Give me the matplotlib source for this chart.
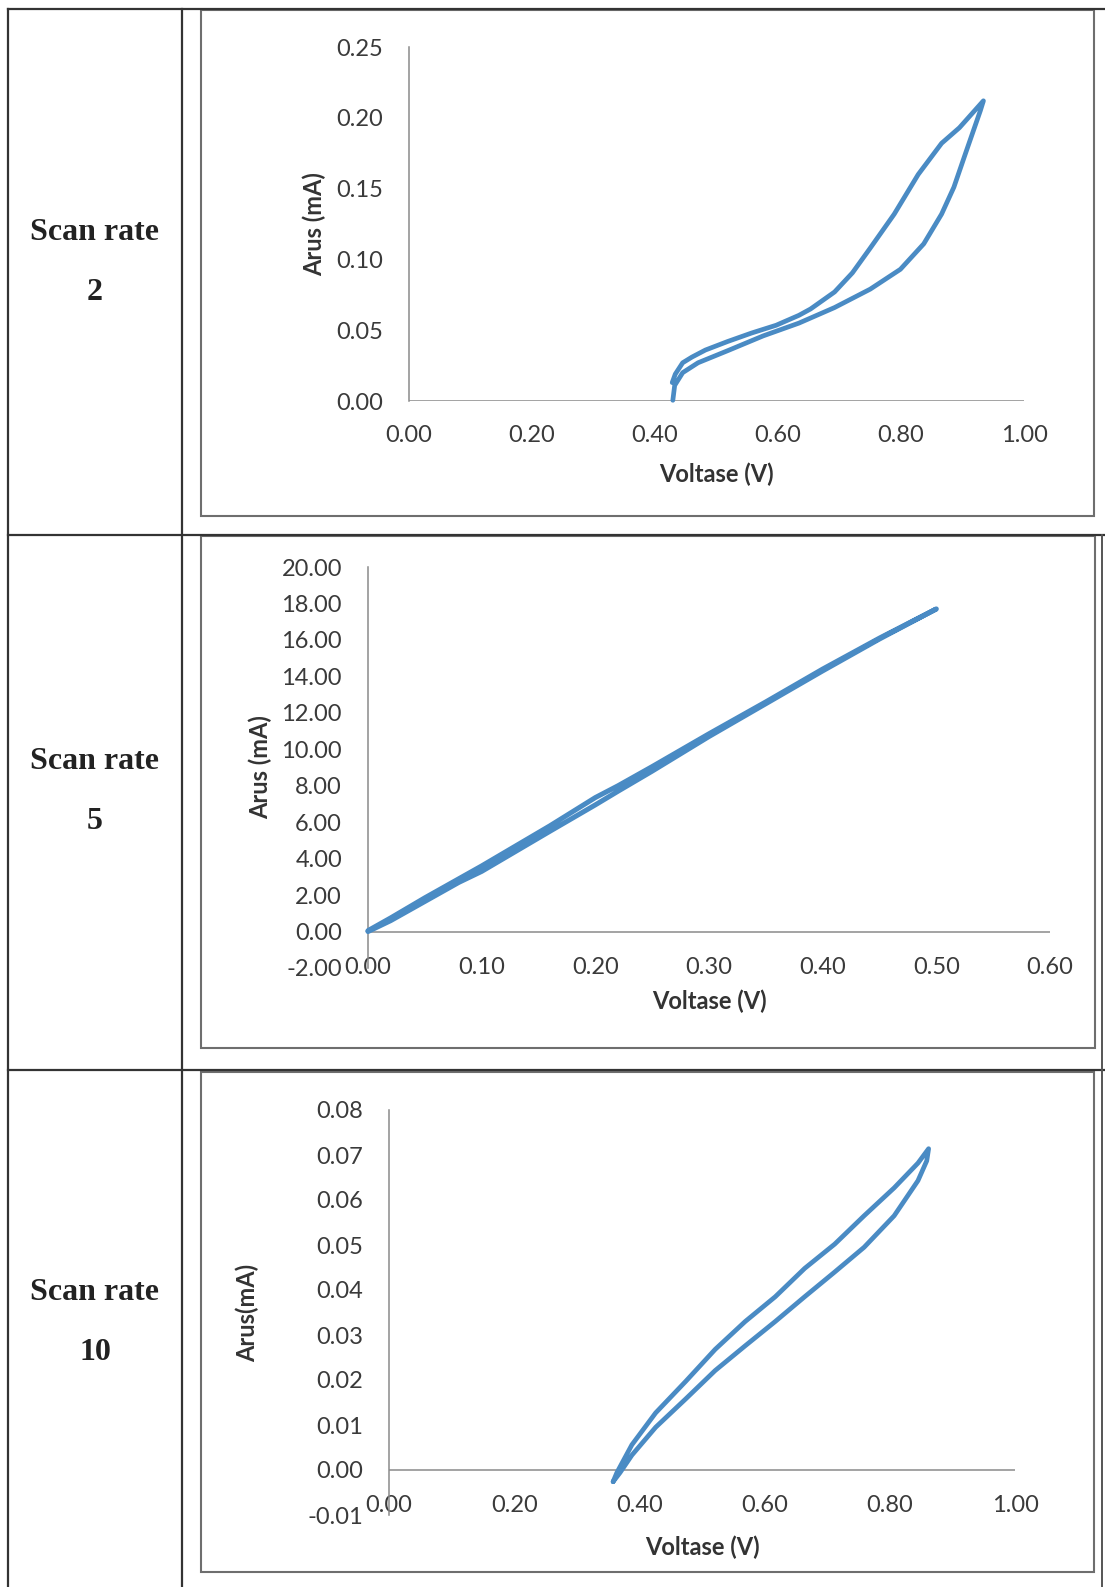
import matplotlib
matplotlib.use("Agg")
import matplotlib.pyplot as plt
from matplotlib.lines import Line2D
from matplotlib.patches import Rectangle

W, H = 1105, 1587
BLUE = "#4a8bc4"
AXIS_GREY = "#8a8a8a"
TEXT = "#3a3a3a"

plt.rcParams["font.family"] = ["Lato", "DejaVu Sans"]

# scan rate 2: forward (upper) and return (lower) branches
v2_up = [0.428, 0.433, 0.445, 0.460, 0.482, 0.518, 0.557, 0.597, 0.634, 0.653,
         0.692, 0.721, 0.750, 0.789, 0.828, 0.866, 0.895, 0.934]
i2_up = [0.013, 0.019, 0.027, 0.031, 0.036, 0.042, 0.048, 0.0535, 0.0605, 0.065,
         0.077, 0.0905, 0.108, 0.132, 0.160, 0.182, 0.193, 0.212]
v2_down = [0.929, 0.905, 0.886, 0.866, 0.837, 0.799, 0.750, 0.692, 0.634, 0.576,
           0.518, 0.470, 0.445, 0.432, 0.429]
i2_down = [0.205, 0.175, 0.151, 0.132, 0.111, 0.093, 0.079, 0.066, 0.055, 0.046,
           0.0355, 0.027, 0.020, 0.011, 0.0005]

# scan rate 5
v5_up = [0.0, 0.02, 0.05, 0.08, 0.10, 0.13, 0.16, 0.20, 0.22, 0.25, 0.30, 0.35, 0.40, 0.45, 0.50]
i5_up = [0.0, 0.6, 1.65, 2.7, 3.3, 4.4, 5.5, 6.95, 7.7, 8.8, 10.7, 12.5, 14.3, 16.05, 17.7]
v5_down = [0.50, 0.45, 0.40, 0.35, 0.30, 0.25, 0.22, 0.20, 0.16, 0.13, 0.10, 0.08, 0.05, 0.02, 0.0]
i5_down = [17.7, 16.1, 14.4, 12.6, 10.85, 9.05, 8.0, 7.35, 5.8, 4.7, 3.6, 2.9, 1.85, 0.75, 0.05]

# scan rate 10
v10_up = [0.358, 0.364, 0.388, 0.426, 0.474, 0.521, 0.569, 0.617, 0.664, 0.712,
          0.759, 0.807, 0.845, 0.862]
i10_up = [-0.0026, -0.0006, 0.0056, 0.0127, 0.0197, 0.0268, 0.0330, 0.0385, 0.0448,
          0.0502, 0.0565, 0.0627, 0.0682, 0.0714]
v10_down = [0.862, 0.859, 0.845, 0.807, 0.759, 0.712, 0.664, 0.617, 0.569, 0.521,
            0.474, 0.426, 0.388, 0.369, 0.358]
i10_down = [0.0714, 0.0687, 0.0643, 0.0565, 0.0495, 0.0440, 0.0385, 0.0330, 0.0276,
            0.0221, 0.0158, 0.0095, 0.0033, -0.0006, -0.0026]

rates = ["2", "5", "10"]
ylabels = ["Arus (mA)", "Arus (mA)", "Arus(mA)"]
xticks = [[0, 0.2, 0.4, 0.6, 0.8, 1.0],
          [0, 0.1, 0.2, 0.3, 0.4, 0.5, 0.6],
          [0, 0.2, 0.4, 0.6, 0.8, 1.0]]
yticks = [[0, 0.05, 0.10, 0.15, 0.20, 0.25],
          [-2, 0, 2, 4, 6, 8, 10, 12, 14, 16, 18, 20],
          [-0.01, 0, 0.01, 0.02, 0.03, 0.04, 0.05, 0.06, 0.07, 0.08]]
curves = [(v2_up + v2_down, i2_up + i2_down),
          (v5_up + v5_down, i5_up + i5_down),
          (v10_up + v10_down, i10_up + i10_down)]

# layout in pixels: axes (left, top, right, bottom), chart box, label centres
panels = [
    dict(ax=(409, 47, 1024, 401), box=(201, 10, 1094, 516), xpad=35,
         ylab_x=314, xlab_y=474, lw=3.4),
    dict(ax=(368, 567, 1050, 968), box=(201, 536, 1095, 1048), xpad=0,
         ylab_x=260, xlab_y=1001, lw=3.6),
    dict(ax=(389, 1110, 1015, 1515), box=(201, 1072, 1094, 1572), xpad=-9,
         ylab_x=247, xlab_y=1547, lw=3.4),
]
row_lines = [9, 535, 1070]


def fx(px):
    return px / W


def fy(py):
    return 1 - py / H


fig = plt.figure(figsize=(W / 100, H / 100), dpi=100)


def fig_line(x0, y0, x1, y1, color="#333333", lw=1.6):
    fig.add_artist(Line2D([fx(x0), fx(x1)], [fy(y0), fy(y1)],
                          transform=fig.transFigure, color=color, lw=lw))


# table grid
fig_line(8, 9, 8, H)
fig_line(182, 9, 182, H)
for y in row_lines:
    fig_line(8, y, W, y)
fig_line(1102, row_lines[1], 1102, H, color="#555555", lw=1.4)

for k, p in enumerate(panels):
    l, t, r, b = p["ax"]
    bl, bt, br, bb = p["box"]
    fig.add_artist(Rectangle((fx(bl), fy(bb)), fx(br) - fx(bl), fy(bt) - fy(bb),
                             transform=fig.transFigure, fill=False,
                             edgecolor="#6e6e6e", lw=1.5))

    # row label
    cy = (bt + bb) / 2
    fig.text(fx(95), fy(cy - 30), "Scan rate", ha="center", va="center",
             family="Liberation Serif", fontweight="bold", fontsize=23, color="#222222")
    fig.text(fx(95), fy(cy + 30), rates[k], ha="center", va="center",
             family="Liberation Serif", fontweight="bold", fontsize=23, color="#222222")

    ax = fig.add_axes([fx(l), fy(b), fx(r) - fx(l), fy(t) - fy(b)])
    ax.patch.set_alpha(0)
    v, i = curves[k]
    ax.plot(v, i, color=BLUE, lw=p["lw"], solid_joinstyle="round",
            solid_capstyle="round", clip_on=False, zorder=3)

    ax.set_xlim(xticks[k][0], xticks[k][-1])
    ax.set_ylim(yticks[k][0], yticks[k][-1])
    ax.set_xticks(xticks[k])
    ax.set_yticks(yticks[k])
    ax.set_xticklabels([f"{x:.2f}" for x in xticks[k]])
    ax.set_yticklabels([f"{y:.2f}" for y in yticks[k]])
    for s in ["top", "right", "bottom"]:
        ax.spines[s].set_visible(False)
    ax.spines["left"].set_color(AXIS_GREY)
    ax.spines["left"].set_linewidth(1.1)
    ax.axhline(0, color=AXIS_GREY, lw=1.1, zorder=1)

    ax.tick_params(axis="both", length=0, labelsize=17, labelcolor=TEXT)
    ax.tick_params(axis="y", pad=26 * 0.72)
    ax.tick_params(axis="x", pad=p["xpad"] * 0.72)
    plt.setp(ax.get_xticklabels(), va="center")

    ax.set_xlabel("Voltase (V)", fontsize=17, fontweight="bold", color="#333333", va="center")
    ax.set_ylabel(ylabels[k], fontsize=17, fontweight="bold", color="#333333", va="center")
    ax.xaxis.set_label_coords(0.5, -(p["xlab_y"] - b) / (b - t))
    ax.yaxis.set_label_coords((p["ylab_x"] - l) / (r - l), 0.5)

fig.savefig("out.png", dpi=100, facecolor="white")
